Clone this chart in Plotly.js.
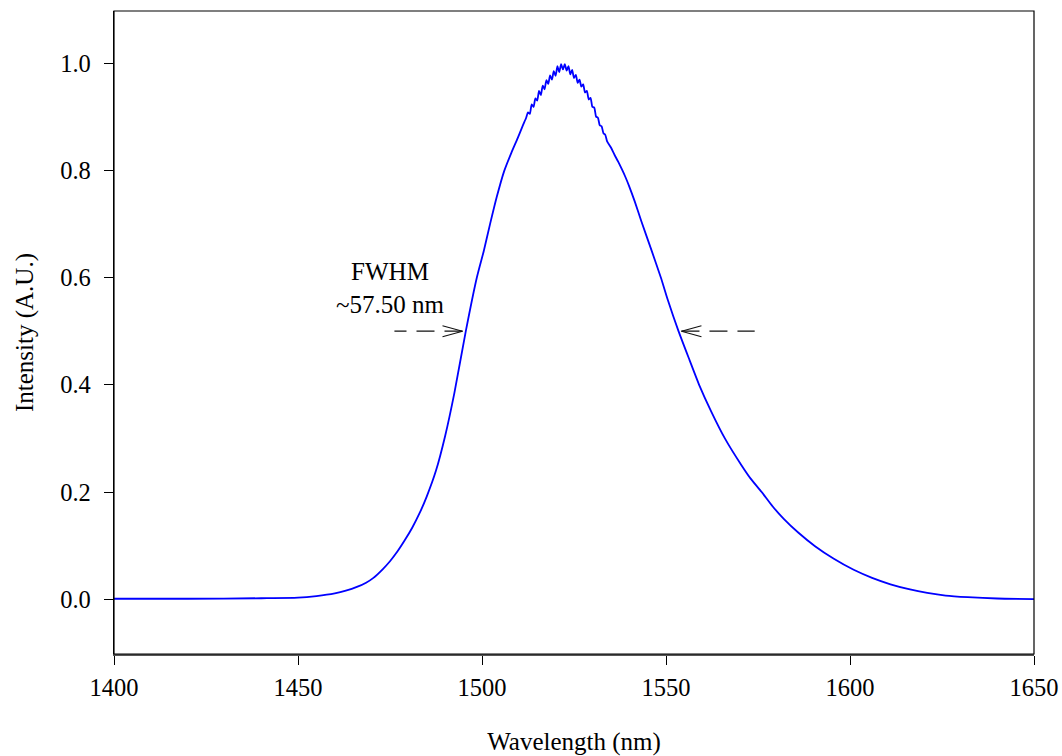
<!DOCTYPE html>
<html>
<head>
<meta charset="utf-8">
<script src="https://cdn.plot.ly/plotly-3.0.1.min.js"></script>
<style>html,body{margin:0;padding:0;background:#fff;}#chart{width:1062px;height:756px;}</style>
</head>
<body>
<div id="chart"></div>
<script>
// Emission spectrum
const wavelength = [
  1400, 1420, 1440, 1450, 1455, 1460, 1463, 1466, 1468.5, 1470.5, 1473, 1475, 1477, 1479, 1481, 1483, 1485,
  1487.5, 1490, 1492.5, 1495.6, 1498.6, 1500.5, 1502.2, 1504, 1506, 1508, 1509.7, 1511,
  1512, 1512.5, 1513, 1513.5, 1514, 1514.5, 1515, 1515.5, 1516, 1516.5, 1517, 1517.5, 1518, 1518.5,
  1519, 1519.5, 1520, 1520.5, 1521, 1521.5, 1522, 1522.5, 1523, 1523.5, 1524, 1524.5, 1525, 1525.5,
  1526, 1526.5, 1527, 1527.5, 1528, 1528.5, 1529, 1529.5, 1530, 1530.5, 1531, 1531.5, 1532, 1532.5,
  1533, 1533.5, 1534, 1535, 1536, 1537, 1538, 1539, 1540,
  1541.5, 1543.3, 1546, 1548.6, 1550.5, 1553.4, 1556.4, 1559, 1562.3, 1566, 1570.5, 1573, 1576, 1579, 1582,
  1586, 1590.5, 1595.5, 1601, 1606, 1611, 1616, 1621, 1626, 1632, 1640, 1650
];
const intensity = [
  0.001, 0.001, 0.002, 0.003, 0.006, 0.011, 0.016, 0.023, 0.031, 0.040, 0.056, 0.071, 0.089, 0.110, 0.133, 0.160, 0.192,
  0.240, 0.305, 0.385, 0.500, 0.600, 0.650, 0.700, 0.750, 0.798, 0.833, 0.860, 0.882,
  0.898, 0.908, 0.905, 0.923, 0.918, 0.934, 0.930, 0.948, 0.940, 0.958, 0.951, 0.968, 0.961, 0.977,
  0.969, 0.985, 0.976, 0.994, 0.983, 0.998, 0.988, 0.998, 0.986, 0.994, 0.979, 0.987, 0.972, 0.978,
  0.963, 0.969, 0.956, 0.960, 0.945, 0.948, 0.932, 0.935, 0.918, 0.917, 0.900, 0.898, 0.884, 0.882,
  0.869, 0.866, 0.854, 0.843, 0.829, 0.816, 0.802, 0.787, 0.770,
  0.742, 0.705, 0.652, 0.600, 0.558, 0.500, 0.446, 0.400, 0.350, 0.300, 0.250, 0.225, 0.200, 0.173, 0.150,
  0.124, 0.099, 0.076, 0.055, 0.040, 0.028, 0.019, 0.012, 0.007, 0.004, 0.0015, 0.0005
];

// Axis ticks
const xTicks = [1400, 1450, 1500, 1550, 1600, 1650];
const yTicks = [0.0, 0.2, 0.4, 0.6, 0.8, 1.0];
const yTickText = ["0.0", "0.2", "0.4", "0.6", "0.8", "1.0"];

// FWHM annotation
const fwhmLabel = "FWHM<br>~57.50 nm";
const fwhmLabelPos = [1475.2, 0.58];
const fwhmLevel = 0.5;
const fwhmTips = [1494.7, 1554.2];
const fwhmTails = [1476.2, 1574.1];

const FONT = "Liberation Serif, Times New Roman, serif";

const trace = {
  x: wavelength, y: intensity, type: "scatter", mode: "lines",
  line: {color: "#0000ff", width: 1.8, shape: "spline", smoothing: 0.6}, hoverinfo: "skip", showlegend: false
};

const shapes = [
  {type: "rect", xref: "paper", yref: "paper", x0: 0, x1: 1, y0: 0, y1: 1,
   line: {color: "#000", width: 1.2}, layer: "above"}
];
const arm = 20, half = 5.5;
fwhmTips.forEach((tip, i) => {
  const dir = fwhmTails[i] < tip ? -1 : 1;
  shapes.push({type: "line", xref: "x", yref: "y", x0: tip, x1: fwhmTails[i], y0: fwhmLevel, y1: fwhmLevel,
    line: {color: "#111", width: 1.2, dash: "18px,10px"}});
  [half, -half].forEach(h => {
    shapes.push({type: "line", xref: "x", yref: "y", xsizemode: "pixel", ysizemode: "pixel",
      xanchor: tip, yanchor: fwhmLevel, x0: 0, x1: dir * arm, y0: 0, y1: h,
      line: {color: "#111", width: 1.1}});
  });
});

const layout = {
  width: 1062, height: 756,
  margin: {l: 114, r: 28, t: 11, b: 102, pad: 0},
  paper_bgcolor: "#fff", plot_bgcolor: "#fff",
  font: {family: FONT, size: 25, color: "#000"},
  xaxis: {
    range: [1400, 1650], tickvals: xTicks, ticktext: xTicks.map(String),
    ticks: "outside", ticklen: 9, tickwidth: 1, tickcolor: "#000",
    showline: true, linecolor: "#555", linewidth: 2, showgrid: false, zeroline: false,
    tickfont: {family: FONT, size: 24.5, color: "#000"}, ticklabelstandoff: 2,
    title: {text: "Wavelength (nm)", font: {family: FONT, size: 25, color: "#000"}, standoff: 34}
  },
  yaxis: {
    range: [-0.102, 1.097], tickvals: yTicks, ticktext: yTickText,
    ticks: "outside", ticklen: 9, tickwidth: 1, tickcolor: "#000",
    showline: true, linecolor: "#000", linewidth: 1.3, showgrid: false, zeroline: false,
    tickfont: {family: FONT, size: 24.5, color: "#000"}, ticklabelstandoff: 8,
    title: {text: "Intensity (A.U.)", font: {family: FONT, size: 25, color: "#000"}, standoff: 19}
  },
  shapes: shapes,
  annotations: [{
    x: fwhmLabelPos[0], y: fwhmLabelPos[1], xref: "x", yref: "y", text: fwhmLabel,
    showarrow: false, xanchor: "center", yanchor: "middle", align: "center",
    font: {family: FONT, size: 25, color: "#000"}
  }]
};

Plotly.newPlot("chart", [trace], layout, {staticPlot: true, displayModeBar: false});
</script>
</body>
</html>
